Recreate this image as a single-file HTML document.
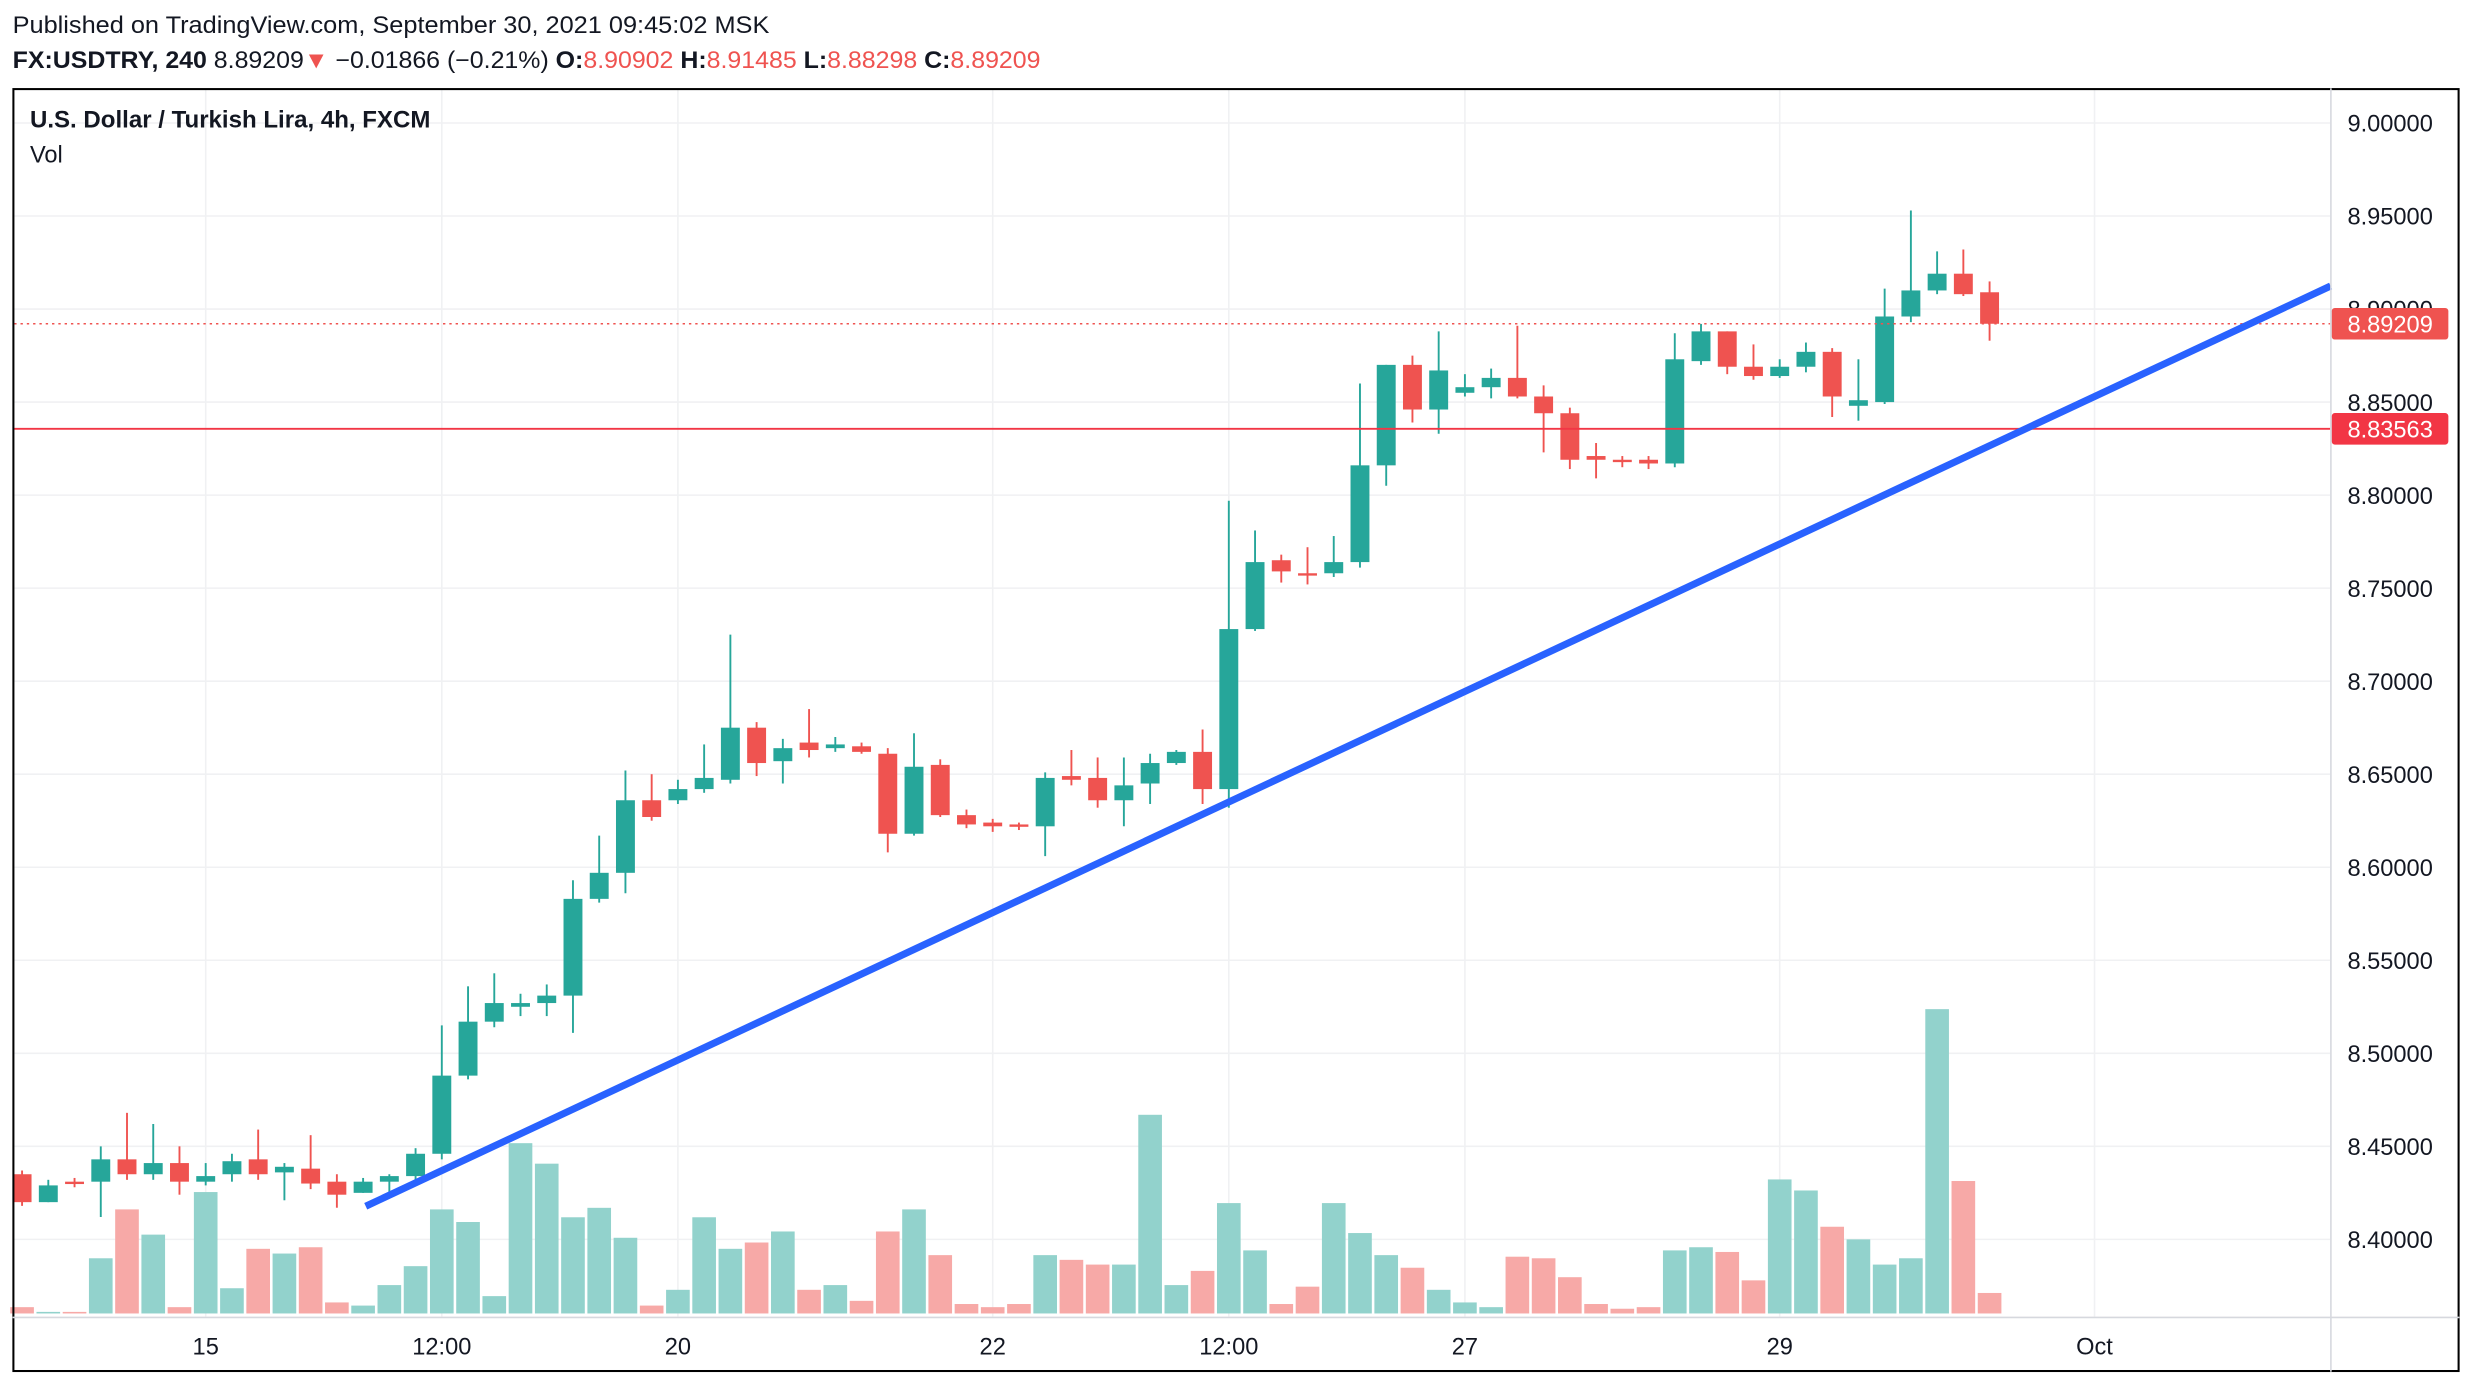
<!DOCTYPE html>
<html><head><meta charset="utf-8"><style>
html,body{margin:0;padding:0;background:#fff;}
svg{display:block;}
text{font-family:"Liberation Sans",sans-serif;}
</style></head><body>
<svg id="chart" width="2472" height="1386" viewBox="0 0 1568 879" preserveAspectRatio="none" xmlns="http://www.w3.org/2000/svg">
<rect x="0" y="0" width="1568" height="879" fill="#fff"/>
<text x="8" y="21" font-size="15" fill="#131722" textLength="480" lengthAdjust="spacingAndGlyphs">Published on TradingView.com, September 30, 2021 09:45:02 MSK</text>
<text x="8" y="43" font-size="15" fill="#131722" textLength="652" lengthAdjust="spacingAndGlyphs"><tspan font-weight="bold">FX:USDTRY, 240</tspan> 8.89209<tspan fill="#ef5350">▼</tspan> −0.01866 (−0.21%) <tspan font-weight="bold">O:</tspan><tspan fill="#ef5350">8.90902</tspan> <tspan font-weight="bold">H:</tspan><tspan fill="#ef5350">8.91485</tspan> <tspan font-weight="bold">L:</tspan><tspan fill="#ef5350">8.88298</tspan> <tspan font-weight="bold">C:</tspan><tspan fill="#ef5350">8.89209</tspan></text>
<g id="grid"></g>
<g id="vols"></g>
<g id="candles"></g>
<g id="lines"></g>
<g id="yaxis"></g>
<g id="xaxis"></g>
<text x="19" y="81" font-size="15" font-weight="bold" fill="#131722" textLength="254" lengthAdjust="spacingAndGlyphs">U.S. Dollar / Turkish Lira, 4h, FXCM</text>
<text x="19" y="103" font-size="15" fill="#131722">Vol</text>
<rect x="8.5" y="56.5" width="1551" height="813" fill="none" stroke="#000" stroke-width="1.3"/>
<line x1="1478.5" y1="56" x2="1478.5" y2="870" stroke="#d6d8de" stroke-width="1"/>
<line x1="8" y1="835.5" x2="1560" y2="835.5" stroke="#d6d8de" stroke-width="1"/>
</svg>
<script>
const opens=[8.435,8.420,8.431,8.431,8.443,8.435,8.441,8.431,8.435,8.443,8.436,8.438,8.431,8.425,8.431,8.434,8.446,8.488,8.517,8.525,8.527,8.531,8.583,8.597,8.636,8.636,8.642,8.647,8.675,8.657,8.667,8.664,8.665,8.661,8.618,8.655,8.628,8.624,8.623,8.622,8.649,8.648,8.636,8.645,8.656,8.662,8.642,8.728,8.765,8.758,8.758,8.764,8.816,8.870,8.846,8.855,8.858,8.863,8.853,8.844,8.821,8.819,8.819,8.817,8.872,8.888,8.869,8.864,8.869,8.877,8.848,8.850,8.896,8.910,8.919,8.90902];
const highs=[8.437,8.432,8.433,8.450,8.468,8.462,8.450,8.441,8.446,8.459,8.441,8.456,8.435,8.433,8.435,8.449,8.515,8.536,8.543,8.532,8.537,8.593,8.617,8.652,8.650,8.647,8.666,8.725,8.678,8.669,8.685,8.670,8.667,8.664,8.672,8.658,8.631,8.626,8.624,8.651,8.663,8.659,8.659,8.661,8.663,8.674,8.797,8.781,8.768,8.772,8.778,8.860,8.870,8.875,8.888,8.865,8.868,8.891,8.859,8.847,8.828,8.821,8.821,8.887,8.892,8.888,8.881,8.873,8.882,8.879,8.873,8.911,8.953,8.931,8.932,8.91485];
const lows=[8.418,8.420,8.428,8.412,8.432,8.432,8.424,8.429,8.431,8.432,8.421,8.427,8.417,8.425,8.425,8.431,8.443,8.486,8.514,8.520,8.520,8.511,8.581,8.586,8.625,8.634,8.640,8.645,8.649,8.645,8.659,8.662,8.661,8.608,8.617,8.627,8.621,8.619,8.620,8.606,8.644,8.632,8.622,8.634,8.655,8.634,8.632,8.727,8.753,8.752,8.756,8.761,8.805,8.839,8.833,8.853,8.852,8.852,8.823,8.814,8.809,8.815,8.814,8.815,8.870,8.865,8.862,8.863,8.866,8.842,8.840,8.849,8.893,8.908,8.907,8.88298];
const closes=[8.420,8.429,8.430,8.443,8.435,8.441,8.431,8.434,8.442,8.435,8.439,8.430,8.424,8.431,8.434,8.446,8.488,8.517,8.527,8.527,8.531,8.583,8.597,8.636,8.627,8.642,8.648,8.675,8.656,8.664,8.663,8.666,8.662,8.618,8.654,8.628,8.623,8.622,8.622,8.648,8.647,8.636,8.644,8.656,8.662,8.642,8.728,8.764,8.759,8.757,8.764,8.816,8.870,8.846,8.867,8.858,8.863,8.853,8.844,8.819,8.819,8.818,8.817,8.873,8.888,8.869,8.864,8.869,8.877,8.853,8.851,8.896,8.910,8.919,8.908,8.89209];
const volumes=[4,1,1,35,66,50,4,77,16,41,38,42,7,5,18,30,66,58,11,108,95,61,67,48,5,15,61,41,45,52,15,18,8,52,66,37,6,4,6,37,34,31,31,126,18,27,70,40,6,17,70,51,37,29,15,7,4,36,35,23,6,3,4,40,42,39,21,85,78,55,47,31,35,193,84,13];
const priceTicks=[9.0,8.95,8.9,8.85,8.8,8.75,8.7,8.65,8.6,8.55,8.5,8.45,8.4];
const timeLabels=["15","12:00","20","22","12:00","27","29","Oct"];
const timeLabelIdx=[7,16,25,37,46,55,67,79];
const lastPrice=8.89209, levelPrice=8.83563;
const trendStart={i:13.1,p:8.4178}, trendEnd={i:88.0,p:8.9124};

const NS="http://www.w3.org/2000/svg";
const yP=p=>78+(9.0-p)*1180;
const xI=i=>14+i*16.64;
const yV=v=>833-v;
function mk(tag,attrs,parent){const e=document.createElementNS(NS,tag);for(const k in attrs)e.setAttribute(k,attrs[k]);parent.appendChild(e);return e;}
const grid=document.getElementById('grid'),vols=document.getElementById('vols'),cg=document.getElementById('candles'),lines=document.getElementById('lines'),ya=document.getElementById('yaxis'),xa=document.getElementById('xaxis');
priceTicks.forEach(p=>{
  const l=mk('line',{x1:9,x2:1478,y1:yP(p),y2:yP(p),stroke:'#f0f1f3','stroke-width':1},grid);
  
  
  const t=mk('text',{x:1489,y:yP(p)+5.5,'font-size':15,fill:'#131722'},ya);
  
  
  t.textContent=p.toFixed(5);
});
timeLabels.forEach((s,k)=>{
  const x=xI(timeLabelIdx[k]);
  const l=mk('line',{x1:x,x2:x,y1:57,y2:835,stroke:'#f0f1f3','stroke-width':1},grid);
  
  
  const t=mk('text',{x:x,y:859,'font-size':15,fill:'#131722','text-anchor':'middle'},xa);
  
  
  t.textContent=s;
});
volumes.forEach((v,i)=>{
  const up=closes[i]>=opens[i];
  const r=mk('rect',{x:xI(i)-7.5,y:yV(v),width:15,height:v,fill:up?'#92d2cc':'#f7a9a7'},vols);
  
  
});
opens.forEach((o,i)=>{
  const c=closes[i],up=c>=o,col=up?'#26a69a':'#ef5350',x=xI(i);
  const g=mk('g',{},cg);
  
  
  mk('line',{x1:x,x2:x,y1:yP(highs[i]),y2:yP(lows[i]),stroke:col,'stroke-width':1.2},g);
  const top=yP(Math.max(o,c)),bot=yP(Math.min(o,c));
  mk('rect',{x:x-6,y:top,width:12,height:Math.max(1.5,bot-top),fill:col},g);
});
const lvl=mk('line',{x1:9,x2:1478,y1:yP(levelPrice),y2:yP(levelPrice),stroke:'#f23645','stroke-width':1.2},lines);


const lp=mk('line',{x1:9,x2:1478,y1:yP(lastPrice),y2:yP(lastPrice),stroke:'#ef5350','stroke-width':1,'stroke-dasharray':'1.5 2.5'},lines);


const tr=mk('line',{x1:xI(trendStart.i),y1:yP(trendStart.p),x2:xI(trendEnd.i),y2:yP(trendEnd.p),stroke:'#2962ff','stroke-width':4.5},lines);


[[lastPrice,'#ef5350','last-price-label'],[levelPrice,'#f23645','level-price-label']].forEach(([p,col,n])=>{
  const g=mk('g',{},ya);
  
  
  mk('rect',{x:1479,y:yP(p)-10,width:74,height:20,rx:2,fill:col},g);
  const t=mk('text',{x:1489,y:yP(p)+5.5,'font-size':15,fill:'#fff'},g);
  t.textContent=p.toFixed(5);
});
</script>
</body></html>
